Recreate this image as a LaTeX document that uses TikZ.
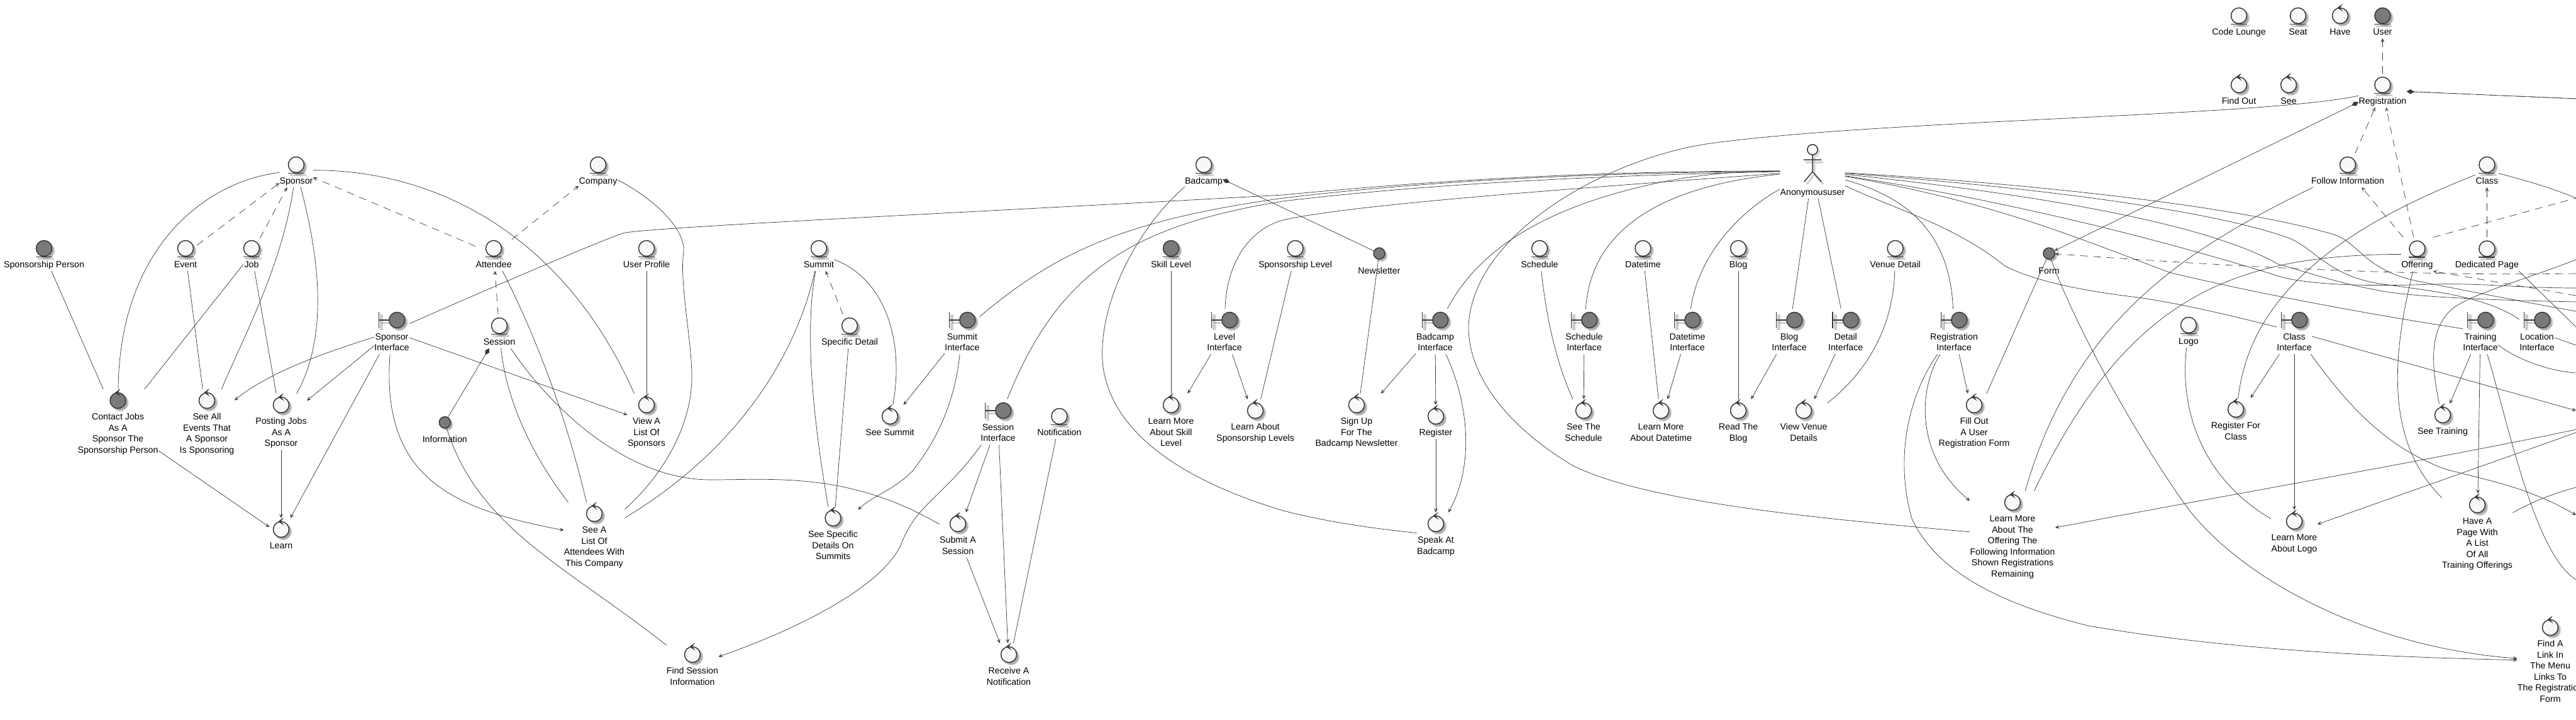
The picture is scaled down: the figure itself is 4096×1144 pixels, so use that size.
\documentclass[tikz,border=0pt]{standalone}
\usepackage{fontspec}
\setmainfont{Liberation Sans}
\usetikzlibrary{arrows.meta,fit}
\definecolor{lite}{HTML}{F8F8F8}
\definecolor{dark}{HTML}{7A7A7A}
\definecolor{ink}{HTML}{383838}
\tikzset{
  ico/.style={draw=ink,line width=1.5pt},
  shad/.style={fill=black,opacity=.13,draw=none},
  shadl/.style={draw=black,opacity=.18,line width=3pt},
  lab/.style={inner sep=0pt,align=center,text=black,font=\fontsize{14.2}{17.6}\selectfont},
  bx/.style={inner sep=0pt,rectangle},
  conn/.style={draw=ink,line width=0.7pt},
  opentip/.tip={Stealth[length=10.5pt,width=9.5pt,inset=7.5pt]},
  dia/.tip={Diamond[length=12pt,width=7.5pt]},
  arr/.style={conn,-opentip},
  dep/.style={conn,dash pattern=on 12pt off 9pt,-opentip},
  dashl/.style={conn,dash pattern=on 12pt off 9pt},
  comp/.style={conn,dia-},
  compa/.style={conn,dia-opentip},
  smallc/.style={circle,inner sep=0pt,minimum size=18pt,draw=ink,line width=1.5pt,fill=dark}
}
\newcommand\ShadC[3]{%
  \fill[shad] (#1+3.5,#2+3.5) circle (#3+1.4);
  \fill[shad] (#1+3.5,#2+3.5) circle (#3+.4);
  \fill[shad] (#1+3.5,#2+3.5) circle (#3-.8);}
\newcommand\EntN[5]{%
  \ShadC{#2}{#3}{12.5}
  \draw[shadl] (#2-10,#3+16.5) -- (#2+16,#3+16.5);
  \draw[ico,fill=#4] (#2,#3) circle (12.5);
  \draw[ico] (#2-13,#3+13.5) -- (#2+13,#3+13.5);
  \node[lab,anchor=north] (#1-l) at (#2,#3+17.7) {\strut #5\strut};
  \node[bx,fit={(#1-l) (#2-13,#3-18) (#2+13,#3-18)}] (#1) {};}
\newcommand\CtrlN[5]{%
  \ShadC{#2}{#3}{12.5}
  \draw[ico,fill=#4] (#2,#3) circle (12.5);
  \filldraw[draw=ink,fill=ink,line width=.6pt] (#2+2.7,#3-17.7) -- (#2-4,#3-12.7) -- (#2+3.3,#3-7.7) -- (#2-.6,#3-12.7) -- cycle;
  \node[lab,anchor=north] (#1-l) at (#2,#3+17.9) {\strut #5\strut};
  \node[bx,fit={(#1-l) (#2-13,#3-18) (#2+13,#3-18)}] (#1) {};}
\newcommand\BndN[4]{%
  \ShadC{#2+8.3}{#3}{12.5}
  \draw[shadl,opacity=.2,line width=5pt] (#2-16.5,#3-9) -- (#2-16.5,#3+16);
  \draw[shadl] (#2-16.5,#3+4) -- (#2-4,#3+4);
  \draw[ico] (#2-20.5,#3-13) -- (#2-20.5,#3+13);
  \draw[ico] (#2-20.5,#3) -- (#2-4,#3);
  \draw[ico,fill=dark] (#2+8.3,#3) circle (12.5);
  \node[lab,anchor=north] (#1-l) at (#2,#3+18.5) {\strut #4\strut};
  \node[bx,fit={(#1-l) (#2,#3-18)}] (#1) {};}
\newcommand\SmallN[4]{%
  \ShadC{#2}{#3}{8.5}
  \node[smallc] (#1-i) at (#2,#3) {};
  \node[lab,anchor=north] (#1-l) at (#2,#3+19.5) {\strut #4\strut};
  \node[bx,fit={(#1-l) (#2,#3-9)}] (#1) {};}
\begin{document}
\begin{tikzpicture}[x=1pt,y=-1pt]
\useasboundingbox (0,0) rectangle (4096,1144);
\clip (0,0) rectangle (4096,1144);
\fill[white] (0,0) rectangle (4096,1144);
% entities
\EntN{sponsor}{471}{262}{lite}{Sponsor}
\EntN{company}{951}{262}{lite}{Company}
\EntN{badcamp}{1914}{262}{lite}{Badcamp}
\EntN{spperson}{70}{395}{dark}{Sponsorship Person}
\EntN{event}{295}{395}{lite}{Event}
\EntN{job}{400}{395}{lite}{Job}
\EntN{attendee}{785}{395}{lite}{Attendee}
\EntN{userprofile}{1028}{395}{lite}{User Profile}
\EntN{summit}{1302}{395}{lite}{Summit}
\EntN{session}{794}{518}{lite}{Session}
\EntN{specdetail}{1351}{518}{lite}{Specific Detail}
\EntN{skill}{1862}{395}{dark}{Skill Level}
\EntN{splevel}{2059.5}{395}{lite}{Sponsorship Level}
\EntN{notification}{1684.4}{662}{lite}{Notification}
\EntN{schedule}{2448}{395}{lite}{Schedule}
\EntN{datetime}{2612.4}{395}{lite}{Datetime}
\EntN{blog}{2764}{395}{lite}{Blog}
\EntN{venue}{3013.6}{395}{lite}{Venue Detail}
\EntN{codelounge}{3560}{25}{lite}{Code Lounge}
\EntN{seat}{3654}{25}{lite}{Seat}
\EntN{user}{3788.4}{25}{dark}{User}
\EntN{registration}{3788.4}{135}{lite}{Registration}
\EntN{follow}{3733}{262}{lite}{Follow Information}
\EntN{class}{3954.4}{262}{lite}{Class}
\EntN{offering}{3843.4}{395.5}{lite}{Offering}
\EntN{dedicated}{3954.4}{395.5}{lite}{Dedicated Page}
\EntN{logo}{3480}{517}{lite}{Logo}
% controls
\CtrlN{contact}{187.5}{637}{dark}{Contact Jobs\\As A\\Sponsor The\\Sponsorship Person}
\CtrlN{seeall}{329}{637}{lite}{See All\\Events That\\A Sponsor\\Is Sponsoring}
\CtrlN{posting}{447}{644}{lite}{Posting Jobs\\As A\\Sponsor}
\CtrlN{learn}{447}{842}{lite}{Learn}
\CtrlN{viewa}{1028}{644}{lite}{View A\\List Of\\Sponsors}
\CtrlN{seea}{945}{817}{lite}{See A\\List Of\\Attendees With\\This Company}
\CtrlN{seespecific}{1324.5}{824}{lite}{See Specific\\Details On\\Summits}
\CtrlN{seesummit}{1415}{662}{lite}{See Summit}
\CtrlN{submit}{1523}{833}{lite}{Submit A\\Session}
\CtrlN{find}{1101}{1041}{lite}{Find Session\\Information}
\CtrlN{receive}{1604}{1041}{lite}{Receive A\\Notification}
\CtrlN{learnskill}{1862}{644}{lite}{Learn More\\About Skill\\Level}
\CtrlN{learnabout}{1996}{653}{lite}{Learn About\\Sponsorship Levels}
\CtrlN{signup}{2157}{644}{lite}{Sign Up\\For The\\Badcamp Newsletter}
\CtrlN{register}{2283}{662}{lite}{Register}
\CtrlN{speak}{2283}{833}{lite}{Speak At\\Badcamp}
\CtrlN{seeschedule}{2518}{653}{lite}{See The\\Schedule}
\CtrlN{learndatetime}{2641}{653}{lite}{Learn More\\About Datetime}
\CtrlN{readblog}{2764}{653}{lite}{Read The\\Blog}
\CtrlN{viewvenue}{2868}{653}{lite}{View Venue\\Details}
\CtrlN{fillout}{3139}{644}{lite}{Fill Out\\A User\\Registration Form}
\CtrlN{learnoffering}{3200}{799}{lite}{Learn More\\About The\\Offering The\\Following Information\\Shown Registrations\\Remaining}
\CtrlN{have}{3721}{25}{lite}{Have}
\CtrlN{findout}{3560}{135}{lite}{Find Out}
\CtrlN{see}{3639}{135}{lite}{See}
\CtrlN{registerclass}{3555}{651}{lite}{Register For\\Class}
\CtrlN{learnlogo}{3648}{829}{lite}{Learn More\\About Logo}
\CtrlN{seetraining}{3884}{660}{lite}{See Training}
\CtrlN{havepage}{3939}{803}{lite}{Have A\\Page With\\A List\\Of All\\Training Offerings}
\CtrlN{findlink}{4055}{998}{lite}{Find A\\Link In\\The Menu\\Links To\\The Registration\\Form}
% boundaries
\BndN{sponsorI}{623}{509}{Sponsor\\Interface}
\BndN{summitI}{1530}{509}{Summit\\Interface}
\BndN{sessionI}{1587}{653}{Session\\Interface}
\BndN{levelI}{1947}{509}{Level\\Interface}
\BndN{badcampI}{2282}{509}{Badcamp\\Interface}
\BndN{scheduleI}{2519}{509}{Schedule\\Interface}
\BndN{datetimeI}{2683}{509}{Datetime\\Interface}
\BndN{blogI}{2845}{509}{Blog\\Interface}
\BndN{detailI}{2934.7}{509}{Detail\\Interface}
\BndN{regI}{3107}{509}{Registration\\Interface}
\BndN{classI}{3648}{509}{Class\\Interface}
\BndN{trainingI}{3944}{509}{Training\\Interface}
\BndN{locationI}{4034}{509}{Location\\Interface}
% small
\SmallN{information}{707.3}{671.7}{Information}
\SmallN{newsletter}{2193}{403}{Newsletter}
\SmallN{form}{3258}{403}{Form}
% actor
\fill[shad] (2885.5,241.5) circle (8.5);
\draw[shadl] (2885,250) -- (2885,277) (2871,258) -- (2899,258) (2885,277) -- (2873,293) (2885,277) -- (2899,293);
\draw[ico,fill=lite] (2882,238) circle (8.2);
\draw[ico] (2882,246) -- (2882,273) (2868,254) -- (2896,254) (2882,273) -- (2869,289) (2882,273) -- (2896,289);
\node[lab,anchor=north] (anonymous-l) at (2882,297.7) {\strut Anonymoususer\strut};
\node[bx,fit={(anonymous-l) (2882,228)}] (anonymous) {};
% free ends at the cut right edge
\coordinate (rA) at (4096,683);
\coordinate (rB) at (4096,688);
\coordinate (rC) at (4096,653);
\coordinate (rD) at (4096,315);
\coordinate (rE) at (4096,520);
\coordinate (rF) at (4096,470);
\coordinate (rG) at (4096,435);
\coordinate (rH) at (4096,157);
\coordinate (rI) at (4096,315);
\coordinate (rJ) at (4096,819);
\coordinate (rK) at (4096,922);
\coordinate (rL) at (4096,593);
\coordinate (rM) at (4096,775);
\coordinate (rN) at (4096,549);
\coordinate (rO) at (4096,413);
\coordinate (rP) at (4096,495);
\coordinate (rQ) at (4096,480);
\coordinate (rR) at (4096,458);
% sponsor area
\draw[conn] (spperson) -- (contact);
\draw[conn] (sponsor) .. controls (320,290) and (190,400) .. (contact);
\draw[conn] (sponsor) .. controls (448,420) and (395,520) .. (seeall);
\draw[conn] (sponsor) .. controls (505,400) and (525,530) .. (posting);
\draw[conn] (sponsor) .. controls (700,270) and (900,380) .. (viewa);
\draw[dep] (event) -- (sponsor);
\draw[dep] (job) -- (sponsor);
\draw[dep] (attendee) -- (sponsor);
\draw[dep] (attendee) -- (company);
\draw[dep] (session) -- (attendee);
\draw[comp] (session) -- (information-i);
\draw[conn] (attendee) .. controls (850,530) and (900,660) .. (seea);
\draw[conn] (session) .. controls (805,640) and (850,730) .. (seea);
\draw[conn] (session) .. controls (880,655) and (1000,763) .. (1130,763) .. controls (1230,763) and (1350,750) .. (submit);
\draw[arr] (sponsorI) .. controls (520,560) and (430,590) .. (seeall);
\draw[arr] (sponsorI) -- (posting);
\draw[arr] (sponsorI) -- (learn);
\draw[arr] (sponsorI) .. controls (605,760) and (720,810) .. (seea);
\draw[arr] (sponsorI) -- (viewa);
\draw[conn] (event) -- (seeall);
\draw[conn] (job) -- (contact);
\draw[conn] (job) -- (posting);
\draw[arr] (posting) -- (learn);
\draw[arr] (contact) -- (learn);
\draw[conn] (userprofile) -- (viewa);
\draw[conn] (company) .. controls (1030,310) and (1090,360) .. (1087,400) .. controls (1080,450) and (1100,540) .. (1100,600) .. controls (1100,680) and (1050,760) .. (seea);
\draw[conn] (information-i) .. controls (760,840) and (900,900) .. (find);
% summit and session
\draw[conn] (summit) .. controls (1260,590) and (1150,730) .. (seea);
\draw[conn] (summit) .. controls (1280,520) and (1290,650) .. (seespecific);
\draw[conn] (specdetail) -- (seespecific);
\draw[dep] (specdetail) -- (summit);
\draw[conn] (summit) .. controls (1400,440) and (1440,530) .. (seesummit);
\draw[arr] (summitI) -- (seesummit);
\draw[arr] (summitI) .. controls (1518,640) and (1490,700) .. (1450,750) .. controls (1420,780) and (1385,790) .. (seespecific);
\draw[arr] (sessionI) -- (submit);
\draw[arr] (sessionI) -- (receive);
\draw[arr] (sessionI) .. controls (1500,790) and (1460,800) .. (1435,860) .. controls (1410,930) and (1270,1000) .. (find);
\draw[conn] (notification) -- (receive);
\draw[arr] (submit) -- (receive);
% anonymous user, left side
\draw[conn] (sponsorI) .. controls (800,449) and (950,385) .. (990,371) .. controls (1020,362) and (1500,340) .. (2040,310) .. controls (2250,290) and (2500,272) .. (anonymous);
\draw[conn] (summitI) .. controls (1680,400) and (1790,350) .. (2040,315) .. controls (2250,290) and (2500,275) .. (anonymous);
\draw[conn] (sessionI) .. controls (1680,440) and (1790,360) .. (2040,320) .. controls (2250,295) and (2500,280) .. (anonymous);
\draw[conn] (levelI) .. controls (1950,420) and (1985,365) .. (2040,350) .. controls (2150,325) and (2500,300) .. (anonymous);
\draw[conn] (badcampI) .. controls (2350,400) and (2450,330) .. (2640,290) .. controls (2700,278) and (2760,272) .. (anonymous);
\draw[conn] (scheduleI) .. controls (2530,360) and (2650,295) .. (anonymous);
\draw[conn] (datetimeI) .. controls (2700,410) and (2760,340) .. (anonymous);
\draw[conn] (blogI) -- (anonymous);
\draw[conn] (detailI) -- (anonymous);
% level, badcamp
\draw[conn] (skill) -- (learnskill);
\draw[arr] (levelI) -- (learnskill);
\draw[arr] (levelI) -- (learnabout);
\draw[conn] (splevel) -- (learnabout);
\draw[comp] (badcamp) -- (newsletter-i);
\draw[conn] (newsletter-i) -- (signup);
\draw[conn] (badcamp) .. controls (1800,370) and (1740,500) .. (1755,590) .. controls (1775,700) and (1900,770) .. (2040,812) .. controls (2110,830) and (2180,840) .. (speak);
\draw[arr] (badcampI) -- (signup);
\draw[arr] (badcampI) -- (register);
\draw[arr] (badcampI) .. controls (2335,640) and (2345,740) .. (speak);
\draw[arr] (register) -- (speak);
% schedule .. venue
\draw[conn] (schedule) .. controls (2460,520) and (2480,590) .. (seeschedule);
\draw[arr] (scheduleI) -- (seeschedule);
\draw[conn] (datetime) -- (learndatetime);
\draw[arr] (datetimeI) -- (learndatetime);
\draw[conn] (blog) -- (readblog);
\draw[arr] (blogI) -- (readblog);
\draw[arr] (detailI) -- (viewvenue);
\draw[conn] (venue) .. controls (3010,520) and (2970,590) .. (viewvenue);
% registration
\draw[conn] (registration) .. controls (3600,185) and (3000,190) .. (2720,228) .. controls (2560,250) and (2340,370) .. (2335,520) .. controls (2335,600) and (2400,680) .. (2500,740) .. controls (2620,800) and (2900,825) .. (learnoffering);
\draw[compa] (registration) -- (form-i);
\draw[conn] (anonymous) .. controls (3020,310) and (3100,360) .. (regI);
\draw[arr] (regI) -- (fillout);
\draw[conn] (form-i) -- (fillout);
\draw[arr] (regI) .. controls (3050,620) and (3045,725) .. (learnoffering);
\draw[arr] (regI) .. controls (3040,620) and (3010,720) .. (3040,825) .. controls (3080,910) and (3180,960) .. (3320,995) .. controls (3550,1035) and (3800,1045) .. (findlink);
\draw[arr] (form-i) .. controls (3300,520) and (3400,700) .. (3480,810) .. controls (3570,925) and (3770,1030) .. (findlink);
\draw[conn] (follow) .. controls (3490,390) and (3300,500) .. (learnoffering);
\draw[conn] (offering) .. controls (3540,405) and (3380,480) .. (learnoffering);
\draw[conn] (offering) .. controls (3805,560) and (3790,700) .. (havepage);
\draw[dep] (offering) -- (follow);
\draw[dep] (offering) -- (registration);
\draw[dep] (follow) -- (registration);
\draw[dep] (registration) -- (user);
\draw[dep] (dedicated) -- (class);
\draw[dashl] (offering.north east) -- (rD);
\draw[dep] (rF) -- (offering.south east);
\draw[dep] (rG) .. controls (3800,440) and (3500,420) .. (form-i);
\draw[comp] (registration) -- (rH);
\draw[dep] (rH) -- (registration);
\draw[conn] (class) .. controls (3780,340) and (3580,440) .. (registerclass);
\draw[conn] (class) .. controls (4020,288) and (4060,300) .. (rI);
\draw[conn] (dedicated.south east) -- (rE);
% anonymous user, right side
\draw[conn] (anonymous) .. controls (3200,290) and (3550,325) .. (3711,373) .. controls (3750,385) and (3760,430) .. (3844,447) .. controls (3900,458) and (4000,478) .. (rP);
\draw[conn] (anonymous) .. controls (3200,295) and (3500,330) .. (3635,377) .. controls (3680,392) and (3700,440) .. (3790,452) .. controls (3860,462) and (3950,470) .. (locationI);
\draw[conn] (anonymous) .. controls (3200,305) and (3500,350) .. (3622,420) .. controls (3660,430) and (3720,452) .. (3800,465) .. controls (3880,475) and (4000,478) .. (rQ);
\draw[conn] (anonymous) .. controls (3200,320) and (3450,385) .. (3626,440) .. controls (3680,455) and (3780,455) .. (3870,452) .. controls (3950,450) and (4000,458) .. (rR);
\draw[conn] (anonymous) .. controls (3170,320) and (3320,385) .. (3449,433) .. controls (3600,470) and (3800,505) .. (trainingI);
\draw[conn] (anonymous) .. controls (3020,335) and (3110,360) .. (3188,423) .. controls (3240,450) and (3330,465) .. (3400,473) .. controls (3480,485) and (3560,505) .. (classI);
% right part
\draw[arr] (rA) .. controls (3900,725) and (3500,795) .. (learnoffering);
\draw[arr] (rB) -- (learnlogo);
\draw[arr] (classI) -- (learnlogo);
\draw[arr] (classI) -- (registerclass);
\draw[arr] (classI) -- (rC);
\draw[arr] (classI) .. controls (3730,640) and (3790,710) .. (3888,746) .. controls (3960,765) and (4020,775) .. (rJ);
\draw[arr] (trainingI) -- (seetraining);
\draw[arr] (trainingI) -- (havepage);
\draw[conn] (trainingI) .. controls (3990,680) and (4030,880) .. (rK);
\draw[conn] (trainingI) .. controls (4000,570) and (4050,590) .. (rL);
\draw[conn] (havepage) .. controls (4030,796) and (4060,785) .. (rM);
\draw[conn] (locationI) -- (rN);
\draw[conn] (rO) .. controls (4000,450) and (3920,470) .. (3895,495) .. controls (3860,530) and (3868,590) .. (seetraining);
\draw[conn] (logo) .. controls (3465,650) and (3500,760) .. (learnlogo);
\end{tikzpicture}
\end{document}
